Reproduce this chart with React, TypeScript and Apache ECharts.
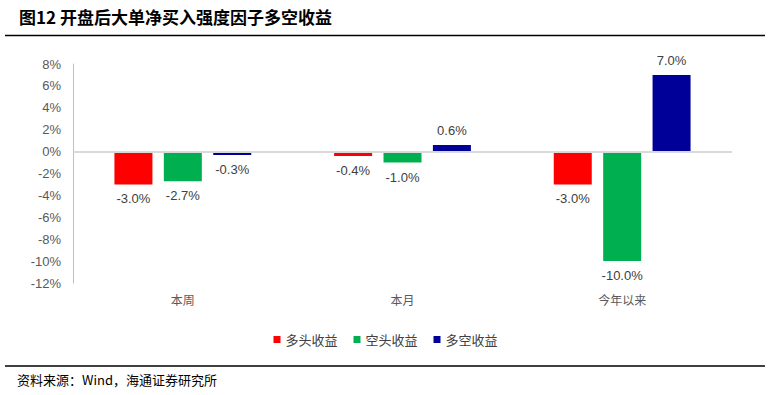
import React, { useEffect, useRef } from "react";
import * as echarts from "echarts";

const categories = ["本周", "本月", "今年以来"];
const seriesNames = ["多头收益", "空头收益", "多空收益"];
const longRet = [-3.0, -0.4, -3.0];
const shortRet = [-2.7, -1.0, -10.0];
const longShortRet = [-0.3, 0.6, 7.0];
const colors = ["#FF0000", "#00B050", "#000099"];
const titleText = "图12 开盘后大单净买入强度因子多空收益";
const sourceText = "资料来源：Wind，海通证券研究所";

export default function App() {
  const ref = useRef<HTMLDivElement>(null);
  useEffect(() => {
    if (!ref.current) return;
    const chart = echarts.init(ref.current, undefined, { renderer: "svg" });
    const values = [longRet, shortRet, longShortRet];
    const series: any[] = values.map((vals, i) => ({
      name: seriesNames[i],
      type: "bar",
      barWidth: 38,
      barGap: "30%",
      itemStyle: { color: colors[i] },
      data: vals.map((v) => ({
        value: v,
        label: { position: v < 0 ? "bottom" : "top" },
      })),
      label: {
        show: true,
        distance: 8,
        formatter: (p: any) => p.value.toFixed(1) + "%",
        color: "#404040",
        fontSize: 13,
        fontFamily: "Liberation Sans, Arial, sans-serif",
      },
      markLine:
        i === 0
          ? {
              silent: true,
              symbol: "none",
              label: { show: false },
              lineStyle: { color: "#d9d9d9", width: 2, type: "solid" },
              data: [{ yAxis: 0 }],
            }
          : undefined,
      z: 3,
    }));
    chart.setOption({
      animation: false,
      backgroundColor: "#ffffff",
      grid: { left: 73, right: 39, top: 64, bottom: 112 },
      legend: {
        data: seriesNames,
        top: 328,
        left: "center",
        itemWidth: 7,
        itemHeight: 7,
        itemGap: 16,
        icon: "rect",
        textStyle: {
          color: "#404040",
          fontSize: 13,
          fontFamily: "Noto Sans CJK SC",
        },
      },
      xAxis: {
        type: "category",
        data: categories,
        position: "bottom",
        axisLine: { show: false, onZero: false },
        axisTick: { show: false },
        axisLabel: {
          margin: 10,
          color: "#595959",
          fontSize: 12,
          fontFamily: "Noto Sans CJK SC",
        },
      },
      yAxis: {
        type: "value",
        min: -12,
        max: 8,
        interval: 2,
        axisLine: { show: true, lineStyle: { color: "#bfbfbf", width: 1 } },
        axisTick: { show: false },
        splitLine: { show: false },
        axisLabel: {
          margin: 12,
          formatter: (v: number) => v + "%",
          color: "#595959",
          fontSize: 13,
          fontFamily: "Liberation Sans, Arial, sans-serif",
        },
      },
      series,
      graphic: [
        {
          type: "text",
          left: 19,
          top: 8,
          style: {
            text: titleText,
            fontSize: 17,
            fontWeight: "bold",
            fill: "#000000",
            fontFamily: "Noto Sans CJK SC",
          },
        },
        {
          type: "line",
          shape: { x1: 5, y1: 35.5, x2: 765, y2: 35.5 },
          style: { stroke: "#000000", lineWidth: 1.5 },
        },
        {
          type: "line",
          shape: { x1: 5, y1: 366, x2: 765, y2: 366 },
          style: { stroke: "#000000", lineWidth: 1.5 },
        },
        {
          type: "text",
          left: 17,
          top: 373,
          style: {
            text: sourceText,
            fontSize: 13,
            fill: "#000000",
            fontFamily: "Noto Sans CJK SC",
          },
        },
      ],
    });
    return () => chart.dispose();
  }, []);
  return (
    <div
      ref={ref}
      style={{ position: "fixed", left: 0, top: 0, width: 771, height: 395 }}
    />
  );
}
